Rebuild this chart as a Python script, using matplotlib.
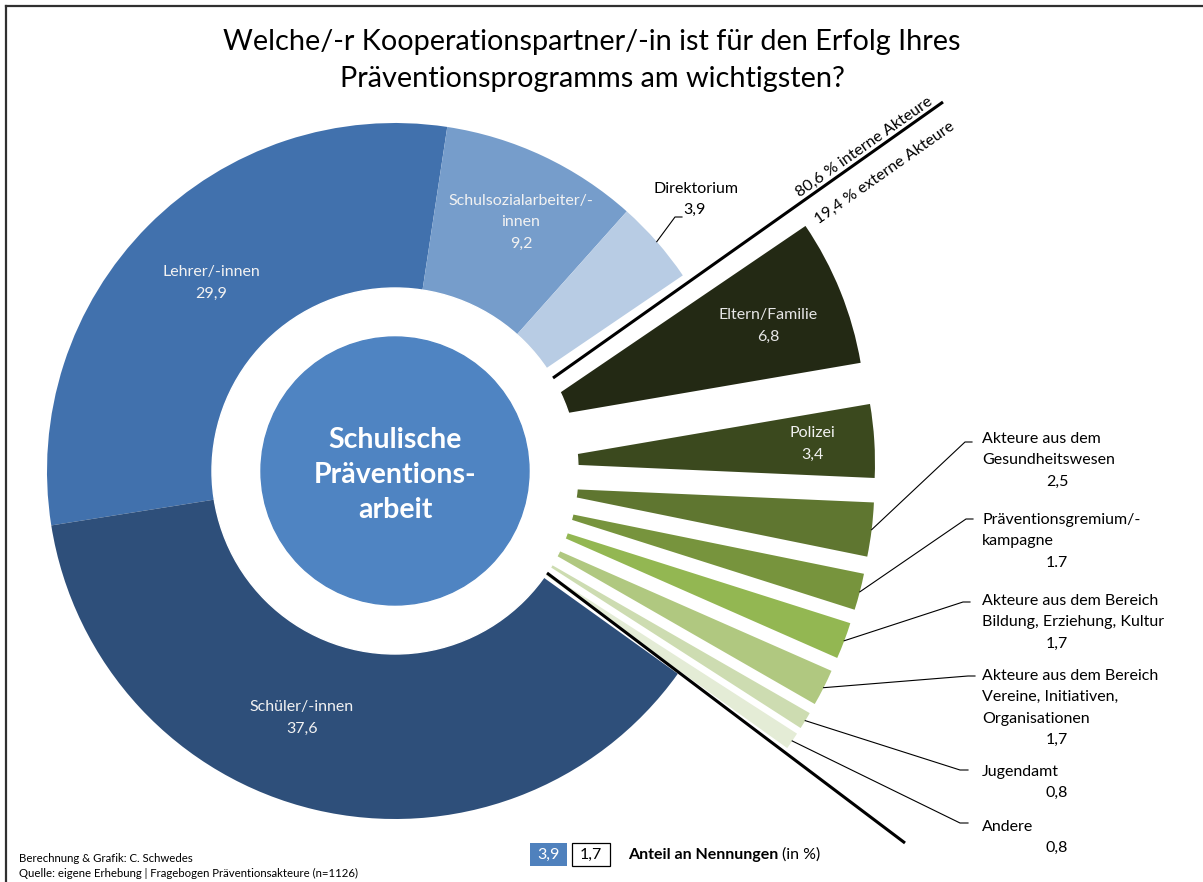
import numpy as np
import matplotlib
matplotlib.use("Agg")
import matplotlib.pyplot as plt
from matplotlib.patches import Circle, Rectangle
from matplotlib.lines import Line2D

plt.rcParams['font.family'] = ['Lato', 'DejaVu Sans']

# --- data (clockwise, starting with Lehrer/-innen) ---
categories = ["Lehrer/-innen", "Schulsozialarbeiter/-\ninnen", "Direktorium",
              "Eltern/Familie", "Polizei",
              "Akteure aus dem\nGesundheitswesen",
              "Präventionsgremium/-\nkampagne",
              "Akteure aus dem Bereich\nBildung, Erziehung, Kultur",
              "Akteure aus dem Bereich\nVereine, Initiativen,\nOrganisationen",
              "Jugendamt", "Andere", "Schüler/-innen"]
shares = [29.9, 9.2, 3.9, 6.8, 3.4, 2.5, 1.7, 1.7, 1.7, 0.8, 0.8, 37.6]
share_labels = ["29,9", "9,2", "3,9", "6,8", "3,4", "2,5", "1.7", "1,7", "1,7",
                "0,8", "0,8", "37,6"]
is_external = [False, False, False, True, True, True, True, True, True, True, True, False]
slice_colors = ["#4171AD", "#769DCB", "#B8CCE4",
                "#232914", "#3B491E", "#5F7630", "#77943D", "#93B752",
                "#B0C880", "#CDDCB1", "#E4ECD6",
                "#2E4F7A"]
internal_total = "80,6 % interne Akteure"
external_total = "19,4 % externe Akteure"

# --- layout (pixels of the 1203x882 picture) ---
W, H = 1203, 882
CX, CY, R = 395, 471, 348
START = 189.0
EXPLODE = 0.38
FS = 11.5


def px(x, y):
    return (x - CX) / R, (CY - y) / R


fig = plt.figure(figsize=(W / 100, H / 100), dpi=100)
ax = fig.add_axes([0, 0, 1, 1])

ax.pie(shares, colors=slice_colors, startangle=START, counterclock=False,
       radius=1, explode=[EXPLODE if e else 0 for e in is_external],
       wedgeprops=dict(linewidth=0))
ax.add_patch(Circle((0, 0), 183 / R, color="white", zorder=3))
ax.add_patch(Circle((0, 0), 134 / R, color="#4F84C2", zorder=4))
ax.set_xlim(-CX / R, (W - CX) / R)
ax.set_ylim((CY - H) / R, CY / R)
ax.set_aspect("equal")
ax.set_axis_off()

ends = START - np.cumsum(shares) * 3.6
starts = ends + np.array(shares) * 3.6
mids = np.radians((starts + ends) / 2)

ax.text(*px(395, 475), "Schulische\nPräventions-\narbeit", ha="center", va="center",
        color="white", fontsize=20.5, fontweight="bold", linespacing=1.42,
        zorder=5)


def label_lines(lines, x, y0, step, ha="center", color="black"):
    for k, line in enumerate(lines):
        ax.text(*px(x, y0 + k * step), line, ha=ha, va="center",
                fontsize=FS, color=color, zorder=6)


# labels inside the slices
inside = {0: (211, 272, "#F2F2F2"), 1: (521, 201, "#F2F2F2"),
          3: (768, 315, "#E6E6E6"), 4: (812, 433, "#F2F2F2"),
          11: (302, 707, "#F2F2F2")}
for i, (x, y, c) in inside.items():
    label_lines(categories[i].split("\n") + [share_labels[i]], x, y, 21.5, color=c)

# Direktorium with leader
label_lines([categories[2]], 696, 189, 0)
ax.text(*px(683, 210), share_labels[2], ha="left", va="center", fontsize=FS)
a = np.array([np.cos(mids[2]), np.sin(mids[2])])
ax.plot([a[0], px(675, 217)[0], px(682, 217)[0]],
        [a[1], px(675, 217)[1], px(682, 217)[1]], color="black", lw=0.8)

# labels right with leader lines
right_y = {5: 439, 6: 520, 7: 601, 8: 676, 9: 772, 10: 827}
elbow = {5: (965, 442), 6: (966, 519), 7: (963, 602), 8: (968, 676),
         9: (960, 770), 10: (960, 823)}
for i, y0 in right_y.items():
    names = categories[i].split("\n")
    for k, line in enumerate(names):
        ax.text(*px(982, y0 + k * 21.3), line, ha="left", va="center", fontsize=FS)
    ax.text(*px(1057, y0 + len(names) * 21.3), share_labels[i], ha="center",
            va="center", fontsize=FS)
    anchor = (1 + EXPLODE) * np.array([np.cos(mids[i]), np.sin(mids[i])])
    ex, ey = px(*elbow[i])
    tx, ty = px(max(elbow[i][0] + 7, 968), elbow[i][1])
    ax.plot([anchor[0], ex, tx], [anchor[1], ey, ty], color="black", lw=0.8)

# separator lines internal / external
for (x1, y1), (x2, y2) in [((553, 378), (943, 102)), ((547, 573), (905, 843))]:
    p1, p2 = px(x1, y1), px(x2, y2)
    ax.plot([p1[0], p2[0]], [p1[1], p2[1]], color="black", lw=2.2, zorder=6,
            solid_capstyle="butt")
ax.text(*px(800, 197), internal_total, rotation=35.1, rotation_mode="anchor",
        ha="left", va="baseline", fontsize=FS)
ax.text(*px(819, 224), external_total, rotation=35.1, rotation_mode="anchor",
        ha="left", va="baseline", fontsize=FS)

# title
fig.text(592 / W, 1 - 42 / H, "Welche/-r Kooperationspartner/-in ist für den Erfolg Ihres",
         ha="center", va="center", fontsize=20.8)
fig.text(592 / W, 1 - 79 / H, "Präventionsprogramms am wichtigsten?",
         ha="center", va="center", fontsize=20.8)

# legend
fig.patches.append(Rectangle((530 / W, 1 - 866 / H), 37 / W, 23 / H,
                             transform=fig.transFigure, facecolor="#4F81BD",
                             edgecolor="none"))
fig.patches.append(Rectangle((572 / W, 1 - 866 / H), 38 / W, 23 / H,
                             transform=fig.transFigure, facecolor="white",
                             edgecolor="black", linewidth=0.9))
fig.text(548.5 / W, 1 - 855 / H, "3,9", ha="center", va="center", fontsize=FS,
         color="white")
fig.text(591 / W, 1 - 855 / H, "1,7", ha="center", va="center", fontsize=FS)
bold = fig.text(628 / W, 1 - 855 / H, "Anteil an Nennungen", ha="left", va="center",
                fontsize=FS, fontweight="bold")
fig.canvas.draw()
bb = bold.get_window_extent()
fig.text((bb.x1 + 4) / W, 1 - 855 / H, "(in %)", ha="left", va="center", fontsize=FS)

# footnote
fig.text(19 / W, 1 - 858 / H, "Berechnung & Grafik: C. Schwedes", ha="left",
         va="center", fontsize=8.2)
fig.text(19 / W, 1 - 873 / H,
         "Quelle: eigene Erhebung | Fragebogen Präventionsakteure (n=1126)",
         ha="left", va="center", fontsize=8.2)

# chart frame (top and left edges visible)
fig.lines.append(Line2D([6 / W, 1], [1 - 6 / H, 1 - 6 / H], transform=fig.transFigure,
                        color="#303030", lw=1.6))
fig.lines.append(Line2D([6 / W, 6 / W], [0, 1 - 6 / H], transform=fig.transFigure,
                        color="#303030", lw=1.6))

fig.savefig("out.png", dpi=100)
